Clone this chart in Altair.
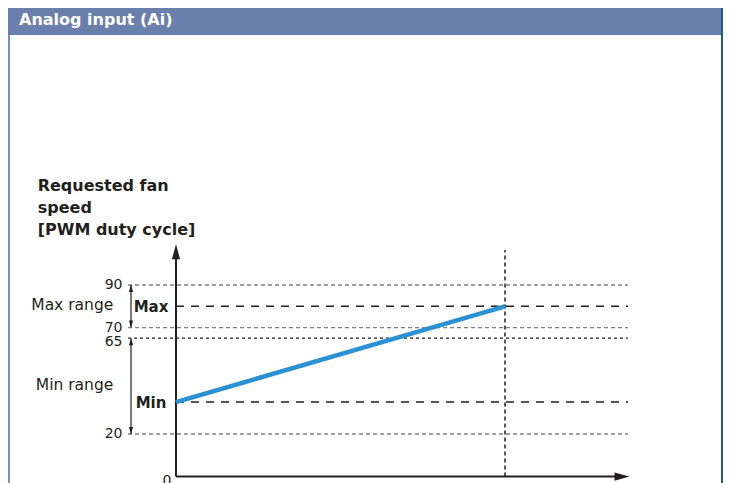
import altair as alt
import pandas as pd

# ---------------- data ----------------
input_x = [0, 10]            # analog input: start and max point
speed_y = [35, 80]           # requested fan speed at those inputs
setpoint_names = ["Max", "Min"]
setpoint_values = [80, 35]
limit_levels = [90, 70, 20]  # gray dotted limits
mid_levels = [65]            # black dotted limit
tick_values = [90, 70, 20]
tick_labels = ["90", "70", "20"]
tick65_value = [65]
tick65_label = ["65"]
zero_label = "0"
range_names = ["Max range", "Min range"]
range_lo = [70, 20]
range_hi = [90, 65]
y_title = ["Requested fan", "speed", "[PWM duty cycle]"]
header_title = "Analog input (Ai)"

# ---------------- style ----------------
FONT = "DejaVu Sans"
INK = "#231f20"
BLUE = "#2a91d3"
HEADER = "#6a7fab"
W, H = 715, 475

xs = alt.Scale(domain=[0, 10], range=[168, 497], nice=False, zero=False)
ys = alt.Scale(domain=[0, 90], range=[468.6, 277], nice=False, zero=False)

one = pd.DataFrame({"k": [0]})


def XD(v):
    return alt.XDatum(v, type="quantitative", scale=xs, axis=None)


def YD(v):
    return alt.YDatum(v, type="quantitative", scale=ys, axis=None)


def YF(f):
    return alt.Y(f, type="quantitative", scale=ys, axis=None)


line_df = pd.DataFrame({"x": input_x, "y": speed_y})
set_df = pd.DataFrame({"name": setpoint_names, "v": setpoint_values})
lim_df = pd.DataFrame({"v": limit_levels})
mid_df = pd.DataFrame({"v": mid_levels})
tick_df = pd.DataFrame({"v": tick_values, "label": tick_labels})
tick65_df = pd.DataFrame({"v": tick65_value, "label": tick65_label})
range_df = pd.DataFrame({"name": range_names, "lo": range_lo, "hi": range_hi})

# frame / header
header = alt.Chart(one).mark_rect(color=HEADER).encode(
    x=alt.value(0), x2=alt.value(W), y=alt.value(0), y2=alt.value(27)
)
header_text = alt.Chart(one).mark_text(
    text=header_title, font=FONT, fontSize=16, fontWeight="bold", color="white",
    align="left", baseline="alphabetic"
).encode(x=alt.value(11), y=alt.value(17))
left_border = alt.Chart(one).mark_rule(color="#7b8fbd", strokeWidth=2).encode(
    x=alt.value(1), y=alt.value(27), y2=alt.value(H)
)
right_border = alt.Chart(one).mark_rule(color="#1c5d8e", strokeWidth=2).encode(
    x=alt.value(W - 1), y=alt.value(0), y2=alt.value(H)
)

# reference lines
gray_lines = alt.Chart(lim_df).mark_rule(
    color="#808080", strokeWidth=1.4, strokeDash=[4, 3]
).encode(y=YF("v"), x=alt.value(120), x2=alt.value(620))
black_dotted = alt.Chart(mid_df).mark_rule(
    color=INK, strokeWidth=1.2, strokeDash=[3, 3]
).encode(y=YF("v"), x=alt.value(120), x2=alt.value(620))
set_lines = alt.Chart(set_df).mark_rule(
    color=INK, strokeWidth=1.5, strokeDash=[8, 7]
).encode(y=YF("v"), x=XD(0), x2=alt.value(620))
vert_dotted = alt.Chart(one).mark_rule(
    color=INK, strokeWidth=1.5, strokeDash=[4, 3]
).encode(x=XD(input_x[1]), y=YD(0), y2=alt.value(242))

# axes
y_axis = alt.Chart(one).mark_rule(color=INK, strokeWidth=2).encode(
    x=XD(0), y=YD(0), y2=alt.value(250)
)
x_axis = alt.Chart(one).mark_rule(color=INK, strokeWidth=2).encode(
    y=YD(0), x=XD(0), x2=alt.value(607)
)
y_head = alt.Chart(one).mark_point(
    shape="M0,0L0.55,2L-0.55,2Z", filled=True, size=225, color=INK, opacity=1, strokeWidth=0
).encode(x=XD(0), y=alt.value(236.3))
x_head = alt.Chart(one).mark_point(
    shape="M0,0L-2,-0.55L-2,0.55Z", filled=True, size=225, color=INK, opacity=1, strokeWidth=0
).encode(x=alt.value(621.5), y=YD(0))

# curve
curve = alt.Chart(line_df).mark_line(color=BLUE, strokeWidth=4.5, strokeCap="butt").encode(
    x=alt.X("x:Q", scale=xs, axis=None), y=YF("y")
)

# range arrows
range_rule = alt.Chart(range_df).mark_rule(color=INK, strokeWidth=1.2).encode(
    x=alt.value(123), y=YF("lo"), y2=alt.Y2("hi")
)
range_up = alt.Chart(range_df).mark_point(
    shape="M0,0L0.6,2L-0.6,2Z", filled=True, size=49, color=INK, opacity=1, strokeWidth=0
).encode(x=alt.value(123), y=YF("hi"))
range_down = alt.Chart(range_df).mark_point(
    shape="M0,0L0.6,-2L-0.6,-2Z", filled=True, size=49, color=INK, opacity=1, strokeWidth=0
).encode(x=alt.value(123), y=YF("lo"))
range_text = alt.Chart(range_df).transform_calculate(
    mid="(datum.lo + datum.hi) / 2"
).mark_text(
    font=FONT, fontSize=15.5, color="#231f20", align="right", baseline="middle", dy=-1
).encode(x=alt.value(105.3), y=YF("mid"), text="name:N")

# labels
ticks = alt.Chart(tick_df).mark_text(
    font=FONT, fontSize=14, color=INK, align="right", baseline="middle"
).encode(x=alt.value(114.5), y=YF("v"), text="label:N")
tick65 = alt.Chart(tick65_df).mark_text(
    font=FONT, fontSize=14, color=INK, align="right", baseline="middle", dy=3.5
).encode(x=alt.value(114.5), y=YF("v"), text="label:N")
zero = alt.Chart(one).mark_text(
    text=zero_label, font=FONT, fontSize=14, color=INK, align="center", baseline="middle",
    dx=-9, dy=4.5
).encode(x=XD(0), y=YD(0))
set_text = alt.Chart(set_df).mark_text(
    font=FONT, fontSize=15, fontWeight="bold", color=INK, align="center",
    baseline="middle", dx=-25, dy=1
).encode(x=XD(0), y=YF("v"), text="name:N")
title = alt.Chart(one).mark_text(
    text=y_title, font=FONT, fontSize=16, fontWeight="bold", color=INK,
    align="left", baseline="alphabetic", lineHeight=22
).encode(x=alt.value(29.7), y=alt.value(183.3))

chart = alt.layer(
    header, header_text, left_border, right_border,
    gray_lines, black_dotted, set_lines, vert_dotted,
    y_axis, x_axis, y_head, x_head, curve,
    range_rule, range_up, range_down, range_text,
    ticks, tick65, zero, set_text, title,
).properties(
    width=W, height=H,
    autosize=alt.AutoSizeParams(type="none"),
    padding=0,
    background="white",
).configure_view(stroke=None)

chart.save("out.html", embed_options={"renderer": "svg", "actions": False})
